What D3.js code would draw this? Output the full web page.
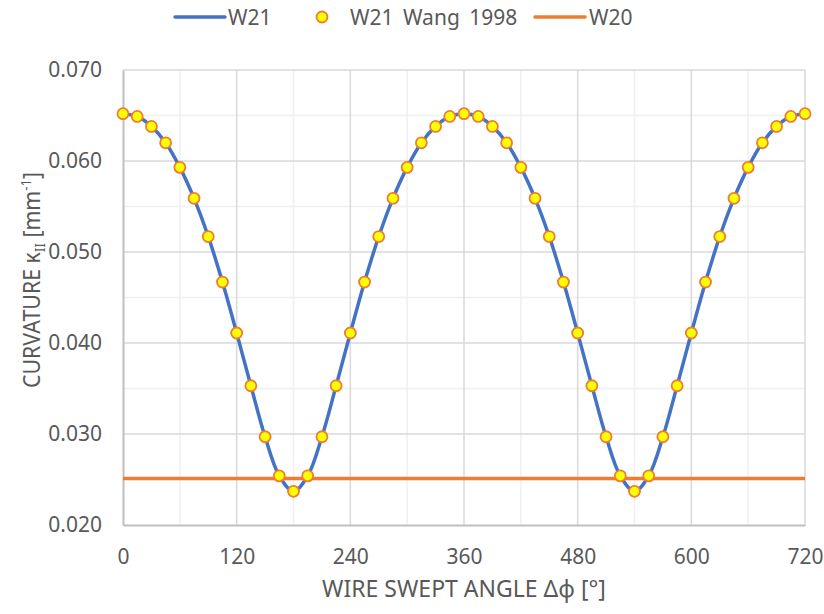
<!DOCTYPE html>
<html>
<head>
<meta charset="utf-8">
<script src="https://cdn.jsdelivr.net/npm/d3@7"></script>
<style>
  html, body { margin: 0; padding: 0; background: #fff; }
  svg { display: block; font-family: "Noto Sans", "Open Sans", sans-serif; }
</style>
</head>
<body>
<svg id="chart" width="824" height="614"></svg>
<script>
// Swept angle (degrees) of each sample
const angles = [0,15,30,45,60,75,90,105,120,135,150,165,180,195,210,225,240,255,270,285,300,315,330,345,
                360,375,390,405,420,435,450,465,480,495,510,525,540,555,570,585,600,615,630,645,660,675,690,705,720];
// W21 curvature (mm^-1)
const w21 = [0.0652,0.0649,0.0638,0.0620,0.0593,0.0559,0.0517,0.0467,0.0411,0.0353,0.0297,0.0254,0.0237,0.0254,0.0297,0.0353,
             0.0411,0.0467,0.0517,0.0559,0.0593,0.0620,0.0638,0.0649,0.0652,0.0649,0.0638,0.0620,0.0593,0.0559,0.0517,0.0467,
             0.0411,0.0353,0.0297,0.0254,0.0237,0.0254,0.0297,0.0353,0.0411,0.0467,0.0517,0.0559,0.0593,0.0620,0.0638,0.0649,0.0652];
// W21 reference values (Wang 1998)
const wang1998 = [0.0652,0.0649,0.0638,0.0620,0.0593,0.0559,0.0517,0.0467,0.0411,0.0353,0.0297,0.0254,0.0237,0.0254,0.0297,0.0353,
             0.0411,0.0467,0.0517,0.0559,0.0593,0.0620,0.0638,0.0649,0.0652,0.0649,0.0638,0.0620,0.0593,0.0559,0.0517,0.0467,
             0.0411,0.0353,0.0297,0.0254,0.0237,0.0254,0.0297,0.0353,0.0411,0.0467,0.0517,0.0559,0.0593,0.0620,0.0638,0.0649,0.0652];
// W20 curvature (constant)
const w20Angles = [0, 720];
const w20 = [0.0251, 0.0251];

const xTicks = [0,120,240,360,480,600,720];
const xMinor = [60,180,300,420,540,660];
const yTicks = [0.020,0.030,0.040,0.050,0.060,0.070];
const yMinor = [0.025,0.035,0.045,0.055,0.065];

const svg = d3.select("#chart");
const plotL = 123, plotR = 805, plotT = 70, plotB = 525;

const x = d3.scaleLinear().domain([0, 720]).range([plotL, plotR]);
const y = d3.scaleLinear().domain([0.020, 0.070]).range([plotB, plotT]);

const textCol = "#595959";

// gridlines
const grid = svg.append("g");
grid.selectAll(".vmin").data(xMinor).join("line")
  .attr("x1", d => x(d)).attr("x2", d => x(d)).attr("y1", plotT).attr("y2", plotB)
  .attr("stroke", "#F0F0F0").attr("stroke-width", 1.5);
grid.selectAll(".hmin").data(yMinor).join("line")
  .attr("y1", d => y(d)).attr("y2", d => y(d)).attr("x1", plotL).attr("x2", plotR)
  .attr("stroke", "#F0F0F0").attr("stroke-width", 1.5);
grid.selectAll(".vmaj").data(xTicks.slice(1)).join("line")
  .attr("x1", d => x(d)).attr("x2", d => x(d)).attr("y1", plotT).attr("y2", plotB)
  .attr("stroke", "#D9D9D9").attr("stroke-width", 1.5);
grid.selectAll(".hmaj").data(yTicks.slice(1)).join("line")
  .attr("y1", d => y(d)).attr("y2", d => y(d)).attr("x1", plotL).attr("x2", plotR)
  .attr("stroke", "#D9D9D9").attr("stroke-width", 1.5);

// axes
const xAxis = svg.append("g").attr("transform", `translate(0,${plotB})`)
  .call(d3.axisBottom(x).tickValues(xTicks).tickSize(0).tickPadding(24).tickFormat(d3.format("d")));
const yAxis = svg.append("g").attr("transform", `translate(${plotL},0)`)
  .call(d3.axisLeft(y).tickValues(yTicks).tickSize(0).tickPadding(21).tickFormat(d3.format(".3f")));
[xAxis, yAxis].forEach(a => {
  a.select(".domain").attr("stroke", "#BFBFBF").attr("stroke-width", 2);
  a.selectAll("text").attr("fill", textCol).attr("font-size", 21)
    .attr("font-family", "'Noto Sans', 'Open Sans', sans-serif");
});

// W20
svg.append("path")
  .datum(w20Angles.map((a, i) => [a, w20[i]]))
  .attr("fill", "none").attr("stroke", "#ED7D31").attr("stroke-width", 3.5)
  .attr("d", d3.line().x(d => x(d[0])).y(d => y(d[1])));

// W21
svg.append("path")
  .datum(angles.map((a, i) => [a, w21[i]]))
  .attr("fill", "none").attr("stroke", "#4472C4").attr("stroke-width", 3.5)
  .attr("stroke-linejoin", "round")
  .attr("d", d3.line().x(d => x(d[0])).y(d => y(d[1])).curve(d3.curveCatmullRom.alpha(0.5)));

// Wang 1998 markers
svg.append("g").selectAll("circle").data(angles.map((a, i) => [a, wang1998[i]])).join("circle")
  .attr("cx", d => x(d[0])).attr("cy", d => y(d[1])).attr("r", 5.5)
  .attr("fill", "#FFFF00").attr("stroke", "#ED7D31").attr("stroke-width", 1.8);

// axis titles
svg.append("text").attr("x", 464).attr("y", 597)
  .attr("text-anchor", "middle").attr("fill", textCol).attr("font-size", 23)
  .text("WIRE SWEPT ANGLE Δϕ [°]");

const yt = svg.append("text").attr("transform", "translate(40,280) rotate(-90)")
  .attr("text-anchor", "middle").attr("fill", textCol).attr("font-size", 23)
  .attr("textLength", 216).attr("lengthAdjust", "spacingAndGlyphs");
yt.append("tspan").text("CURVATURE κ");
yt.append("tspan").attr("font-size", 14).attr("dy", 5).text("II");
yt.append("tspan").attr("dy", -5).text(" [mm");
yt.append("tspan").attr("font-size", 14).attr("dy", -9).text("-1");
yt.append("tspan").attr("dy", 9).text("]");

// legend
const lg = svg.append("g").attr("font-size", 21).attr("fill", textCol);
lg.append("line").attr("x1", 175).attr("x2", 225).attr("y1", 17).attr("y2", 17)
  .attr("stroke", "#4472C4").attr("stroke-width", 3.5).attr("stroke-linecap", "round");
lg.append("text").attr("x", 228).attr("y", 25).text("W21");
lg.append("circle").attr("cx", 322).attr("cy", 17).attr("r", 5.5)
  .attr("fill", "#FFFF00").attr("stroke", "#ED7D31").attr("stroke-width", 1.8);
lg.append("text").attr("x", 350).attr("y", 25).attr("word-spacing", 4).text("W21 Wang 1998");
lg.append("line").attr("x1", 535).attr("x2", 585).attr("y1", 17).attr("y2", 17)
  .attr("stroke", "#ED7D31").attr("stroke-width", 3.5).attr("stroke-linecap", "round");
lg.append("text").attr("x", 589).attr("y", 25).text("W20");
</script>
</body>
</html>
